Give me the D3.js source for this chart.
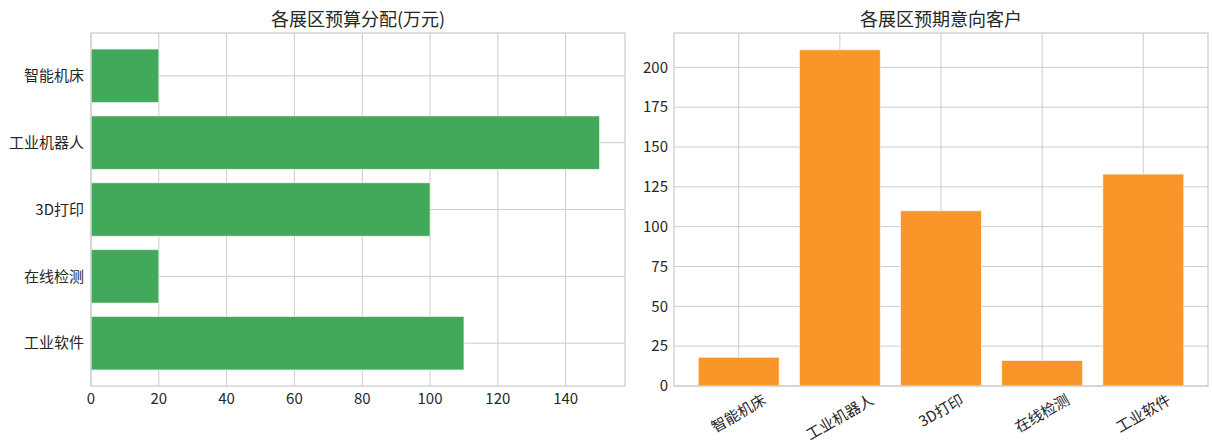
<!DOCTYPE html>
<html>
<head>
<meta charset="utf-8">
<script src="https://cdn.jsdelivr.net/npm/d3@7"></script>
<style>
  body { margin: 0; background: #fff; }
  text { font-family: "Noto Sans CJK SC", "Microsoft YaHei", sans-serif; fill: #262626; }
</style>
</head>
<body>
<div id="chart"></div>
<script>
// data
var zones = ["智能机床", "工业机器人", "3D打印", "在线检测", "工业软件"];
var budget = [20, 150, 100, 20, 110];      // 万元
var customers = [18, 211, 110, 16, 133];
var budgetTicks = [0, 20, 40, 60, 80, 100, 120, 140];
var customerTicks = [0, 25, 50, 75, 100, 125, 150, 175, 200];

var W = 1212, H = 445;
var gridColor = "#cccccc";
var tickSize = 15, titleSize = 18;

var svg = d3.select("#chart").append("svg")
    .attr("width", W)
    .attr("height", H);

function band(n, x0, x1) {
    // matplotlib style: categories at 0..n-1, bars 0.8 wide, 5% margins
    var lo = -0.4 - 0.05 * (n - 0.2), hi = n - 1 + 0.4 + 0.05 * (n - 0.2);
    return d3.scaleLinear().domain([lo, hi]).range([x0, x1]);
}

function frame(g, x0, y0, x1, y1) {
    g.append("rect")
        .attr("x", x0).attr("y", y0)
        .attr("width", x1 - x0).attr("height", y1 - y0)
        .attr("fill", "none")
        .attr("stroke", gridColor)
        .attr("stroke-width", 1.25);
}

// ---- left: horizontal bars ----
var L = {x0: 91, x1: 625, y0: 33, y1: 386};
var left = svg.append("g");

var xb = d3.scaleLinear().domain([0, d3.max(budget) * 1.05]).range([L.x0, L.x1]);
var yb = band(zones.length, L.y0, L.y1);

left.selectAll(".vg").data(budgetTicks).enter().append("line")
    .attr("x1", d => xb(d)).attr("x2", d => xb(d))
    .attr("y1", L.y0).attr("y2", L.y1)
    .attr("stroke", gridColor).attr("stroke-width", 1);
left.selectAll(".hg").data(zones).enter().append("line")
    .attr("x1", L.x0).attr("x2", L.x1)
    .attr("y1", (d, i) => yb(i)).attr("y2", (d, i) => yb(i))
    .attr("stroke", gridColor).attr("stroke-width", 1);

left.selectAll(".bar").data(budget).enter().append("rect")
    .attr("x", xb(0))
    .attr("y", (d, i) => yb(i - 0.4))
    .attr("width", d => xb(d) - xb(0))
    .attr("height", (d, i) => yb(i + 0.4) - yb(i - 0.4))
    .attr("fill", "#42a95b")
    .attr("stroke", "#ffffff").attr("stroke-opacity", 0.6).attr("stroke-width", 1);

frame(left, L.x0, L.y0, L.x1, L.y1);

left.selectAll(".xt").data(budgetTicks).enter().append("text")
    .attr("x", d => xb(d)).attr("y", L.y1 + 18)
    .attr("text-anchor", "middle")
    .style("font-size", tickSize + "px")
    .text(d => d);
left.selectAll(".yt").data(zones).enter().append("text")
    .attr("x", L.x0 - 7).attr("y", (d, i) => yb(i))
    .attr("dy", "0.35em")
    .attr("text-anchor", "end")
    .style("font-size", tickSize + "px")
    .text(d => d);
left.append("text")
    .attr("x", (L.x0 + L.x1) / 2).attr("y", 26)
    .attr("text-anchor", "middle")
    .style("font-size", titleSize + "px")
    .text("各展区预算分配(万元)");

// ---- right: vertical bars ----
var R = {x0: 674, x1: 1208, y0: 33, y1: 386};
var right = svg.append("g");

var xc = band(zones.length, R.x0, R.x1);
var yc = d3.scaleLinear().domain([0, d3.max(customers) * 1.05]).range([R.y1, R.y0]);

right.selectAll(".vg").data(zones).enter().append("line")
    .attr("x1", (d, i) => xc(i)).attr("x2", (d, i) => xc(i))
    .attr("y1", R.y0).attr("y2", R.y1)
    .attr("stroke", gridColor).attr("stroke-width", 1);
right.selectAll(".hg").data(customerTicks).enter().append("line")
    .attr("x1", R.x0).attr("x2", R.x1)
    .attr("y1", d => yc(d)).attr("y2", d => yc(d))
    .attr("stroke", gridColor).attr("stroke-width", 1);

right.selectAll(".bar").data(customers).enter().append("rect")
    .attr("x", (d, i) => xc(i - 0.4))
    .attr("y", d => yc(d))
    .attr("width", (d, i) => xc(i + 0.4) - xc(i - 0.4))
    .attr("height", d => yc(0) - yc(d))
    .attr("fill", "#f8962a")
    .attr("stroke", "#ffffff").attr("stroke-opacity", 0.6).attr("stroke-width", 1);

frame(right, R.x0, R.y0, R.x1, R.y1);

right.selectAll(".yt").data(customerTicks).enter().append("text")
    .attr("x", R.x0 - 6).attr("y", d => yc(d))
    .attr("dy", "0.35em")
    .attr("text-anchor", "end")
    .style("font-size", tickSize + "px")
    .text(d => d);
// rotated labels: centre of the rotated box sits under the tick
right.selectAll(".xt").data(zones).enter().append("text")
    .attr("text-anchor", "middle")
    .attr("dy", "0.35em")
    .style("font-size", tickSize + "px")
    .text(d => d)
    .each(function(d, i) {
        var len = this.getComputedTextLength();
        var a = 30 * Math.PI / 180;
        var hgt = len * Math.sin(a) + tickSize * Math.cos(a);
        d3.select(this).attr("transform",
            "translate(" + xc(i) + "," + (R.y1 + 6 + hgt / 2) + ") rotate(-30)");
    });
right.append("text")
    .attr("x", (R.x0 + R.x1) / 2).attr("y", 26)
    .attr("text-anchor", "middle")
    .style("font-size", titleSize + "px")
    .text("各展区预期意向客户");
</script>
</body>
</html>
